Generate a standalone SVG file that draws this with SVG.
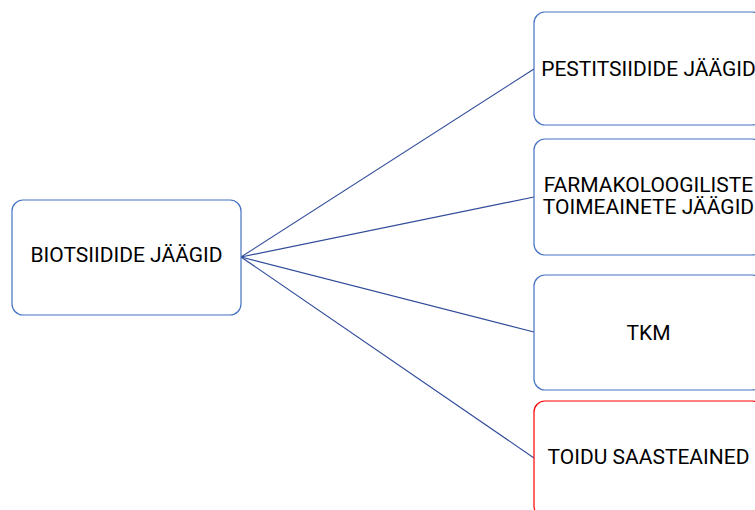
<svg xmlns="http://www.w3.org/2000/svg" width="755" height="510" viewBox="0 0 755 510">
<style>
.box{fill:#fff;stroke:#4472C4;stroke-width:1.2}
.red{stroke:#FF0000}
.lbl{font-family:Roboto,"Liberation Sans",sans-serif;font-size:21px;fill:#000;text-anchor:middle}
.conn{stroke:#2F4B9A;stroke-width:1.1;fill:none}
</style>
<rect width="755" height="510" fill="#fff"/>
<g id="connectors">
<line class="conn" x1="241" y1="257" x2="534" y2="69"/>
<line class="conn" x1="241" y1="257" x2="534" y2="197"/>
<line class="conn" x1="241" y1="257" x2="534" y2="332"/>
<line class="conn" x1="241" y1="257" x2="534" y2="458"/>
</g>
<g id="n0">
<rect class="box" x="12" y="200" width="229" height="115" rx="11"/>
<text class="lbl" x="126.5" y="262">BIOTSIIDIDE JÄÄGID</text>
</g>
<g id="n1">
<rect class="box" x="534" y="12" width="229" height="113" rx="11"/>
<text class="lbl" x="648.5" y="76">PESTITSIIDIDE JÄÄGID</text>
</g>
<g id="n2">
<rect class="box" x="534" y="139" width="229" height="116" rx="11"/>
<text class="lbl" x="648.5" y="192">FARMAKOLOOGILISTE</text>
<text class="lbl" x="648.5" y="214">TOIMEAINETE JÄÄGID</text>
</g>
<g id="n3">
<rect class="box" x="534" y="275" width="229" height="115" rx="11"/>
<text class="lbl" x="648.5" y="340">TKM</text>
</g>
<g id="n4">
<rect class="box red" x="534" y="401" width="229" height="116" rx="11"/>
<text class="lbl" x="648.5" y="464">TOIDU SAASTEAINED</text>
</g>
</svg>
